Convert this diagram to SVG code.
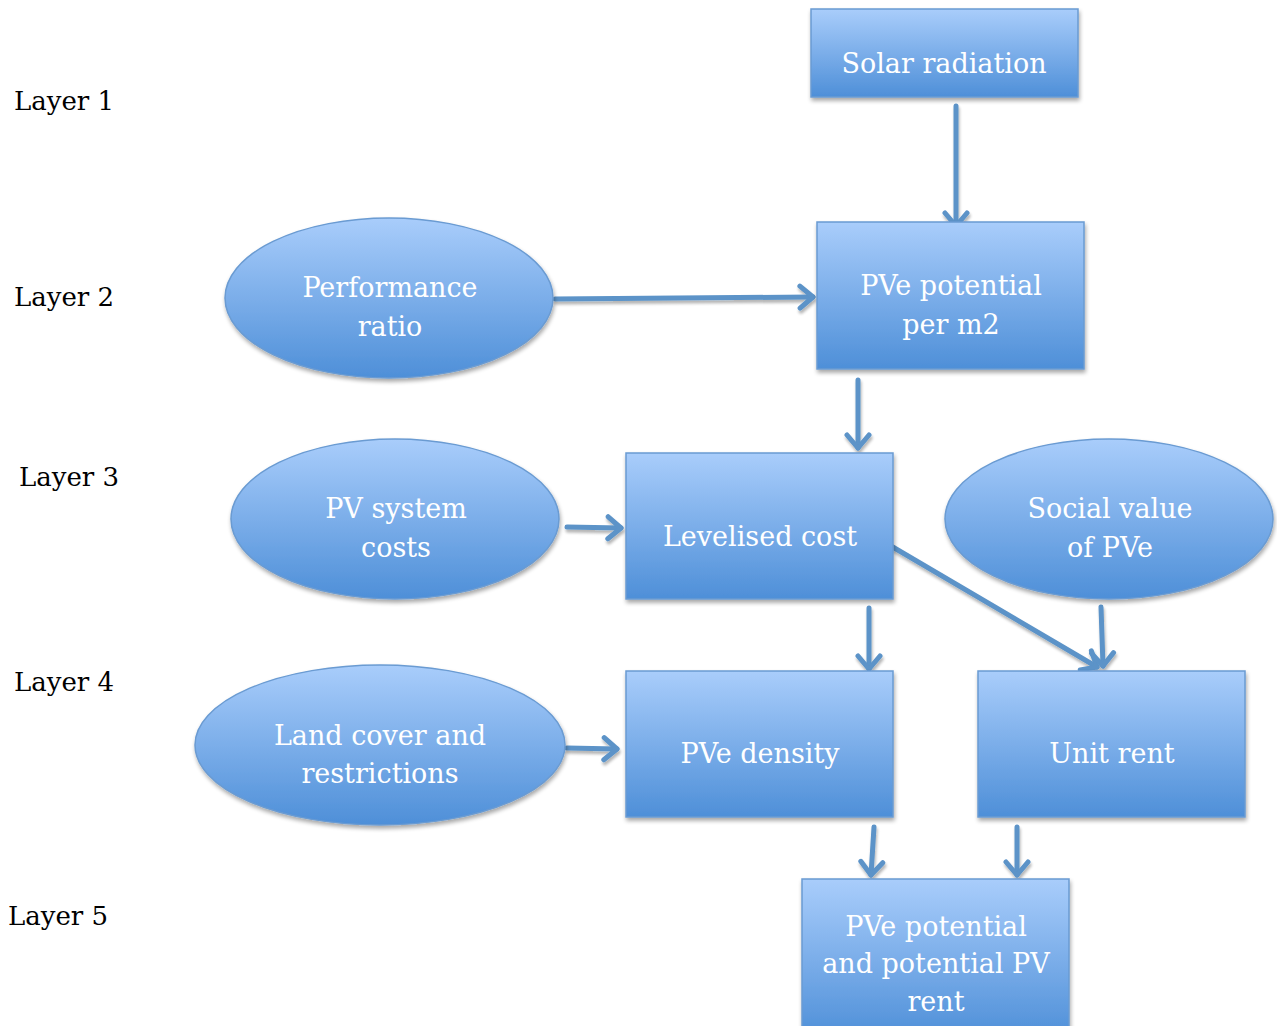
<svg xmlns="http://www.w3.org/2000/svg" width="1277" height="1026" viewBox="0 0 1277 1026">
<defs>
<linearGradient id="g" x1="0" y1="0" x2="0" y2="1">
<stop offset="0" stop-color="#a9cdfb"/>
<stop offset="1" stop-color="#4e8fd8"/>
</linearGradient>
<filter id="sh" x="-10%" y="-10%" width="125%" height="130%">
<feGaussianBlur in="SourceAlpha" stdDeviation="2"/>
<feOffset dx="1" dy="3" result="b"/>
<feComponentTransfer><feFuncA type="linear" slope="0.35"/></feComponentTransfer>
<feMerge><feMergeNode/><feMergeNode in="SourceGraphic"/></feMerge>
</filter>
<filter id="shc" filterUnits="userSpaceOnUse" x="0" y="0" width="1277" height="1026">
<feGaussianBlur in="SourceAlpha" stdDeviation="1.5"/>
<feOffset dx="1" dy="3" result="b"/>
<feComponentTransfer><feFuncA type="linear" slope="0.3"/></feComponentTransfer>
<feMerge><feMergeNode/><feMergeNode in="SourceGraphic"/></feMerge>
</filter>
<marker id="ah" markerUnits="userSpaceOnUse" viewBox="-18 -14 22 28" markerWidth="22" markerHeight="28" refX="0" refY="0" orient="auto">
<path d="M-13,-11 L0,0 L-13,11" fill="none" stroke="#5b93c8" stroke-width="5" stroke-linecap="round" stroke-linejoin="round"/>
</marker>
<style>
.n{fill:url(#g);stroke:#6a9bd2;stroke-width:1.5;filter:url(#sh)}
.t{font-family:"DejaVu Serif","Liberation Serif",serif;font-size:27px;fill:#ffffff;text-anchor:middle}
.l{font-family:"DejaVu Serif","Liberation Serif",serif;font-size:26px;fill:#000000}
.c{stroke:#5b93c8;stroke-width:5;fill:none;stroke-linecap:round;marker-end:url(#ah)}
</style>
</defs>
<rect width="1277" height="1026" fill="#ffffff"/>
<g id="labels">
<text class="l" x="14" y="110">Layer 1</text>
<text class="l" x="14" y="306">Layer 2</text>
<text class="l" x="19" y="486">Layer 3</text>
<text class="l" x="14" y="691">Layer 4</text>
<text class="l" x="8" y="925">Layer 5</text>
</g>
<g id="connectors" filter="url(#shc)">
<path class="c" d="M956,106 L956,226"/>
<path class="c" d="M555,299 L813,297"/>
<path class="c" d="M858,380 L858,448"/>
<path class="c" d="M567,527 L621,528"/>
<path class="c" d="M869,608 L869,669"/>
<path class="c" d="M891,546 L1097,667"/>
<path class="c" d="M1101,607 L1103,666"/>
<path class="c" d="M567,748 L617,749"/>
<path class="c" d="M874,827 L871,875"/>
<path class="c" d="M1017,827 L1017,875"/>
</g>
<g id="solar"><rect class="n" x="811" y="9" width="267" height="88"/><text class="t" x="944" y="73">Solar radiation</text></g>
<g id="perf"><ellipse class="n" cx="389" cy="298" rx="164" ry="80"/><text class="t" x="390" y="297">Performance</text><text class="t" x="390" y="336">ratio</text></g>
<g id="pvepot"><rect class="n" x="817" y="222" width="267" height="147"/><text class="t" x="951" y="295">PVe potential</text><text class="t" x="951" y="334">per m2</text></g>
<g id="pvsys"><ellipse class="n" cx="395" cy="519" rx="164" ry="80"/><text class="t" x="396" y="518">PV system</text><text class="t" x="396" y="557">costs</text></g>
<g id="lcost"><rect class="n" x="626" y="453" width="267" height="146"/><text class="t" x="760" y="546">Levelised cost</text></g>
<g id="social"><ellipse class="n" cx="1109" cy="519" rx="164" ry="80"/><text class="t" x="1110" y="518">Social value</text><text class="t" x="1110" y="557">of PVe</text></g>
<g id="land"><ellipse class="n" cx="380" cy="745" rx="185" ry="80"/><text class="t" x="380" y="745">Land cover and</text><text class="t" x="380" y="783">restrictions</text></g>
<g id="density"><rect class="n" x="626" y="671" width="267" height="146"/><text class="t" x="760" y="763">PVe density</text></g>
<g id="unitrent"><rect class="n" x="978" y="671" width="267" height="146"/><text class="t" x="1112" y="763">Unit rent</text></g>
<g id="final"><rect class="n" x="802" y="879" width="267" height="160"/><text class="t" x="936" y="936">PVe potential</text><text class="t" x="936" y="973">and potential PV</text><text class="t" x="936" y="1011">rent</text></g>
</svg>
